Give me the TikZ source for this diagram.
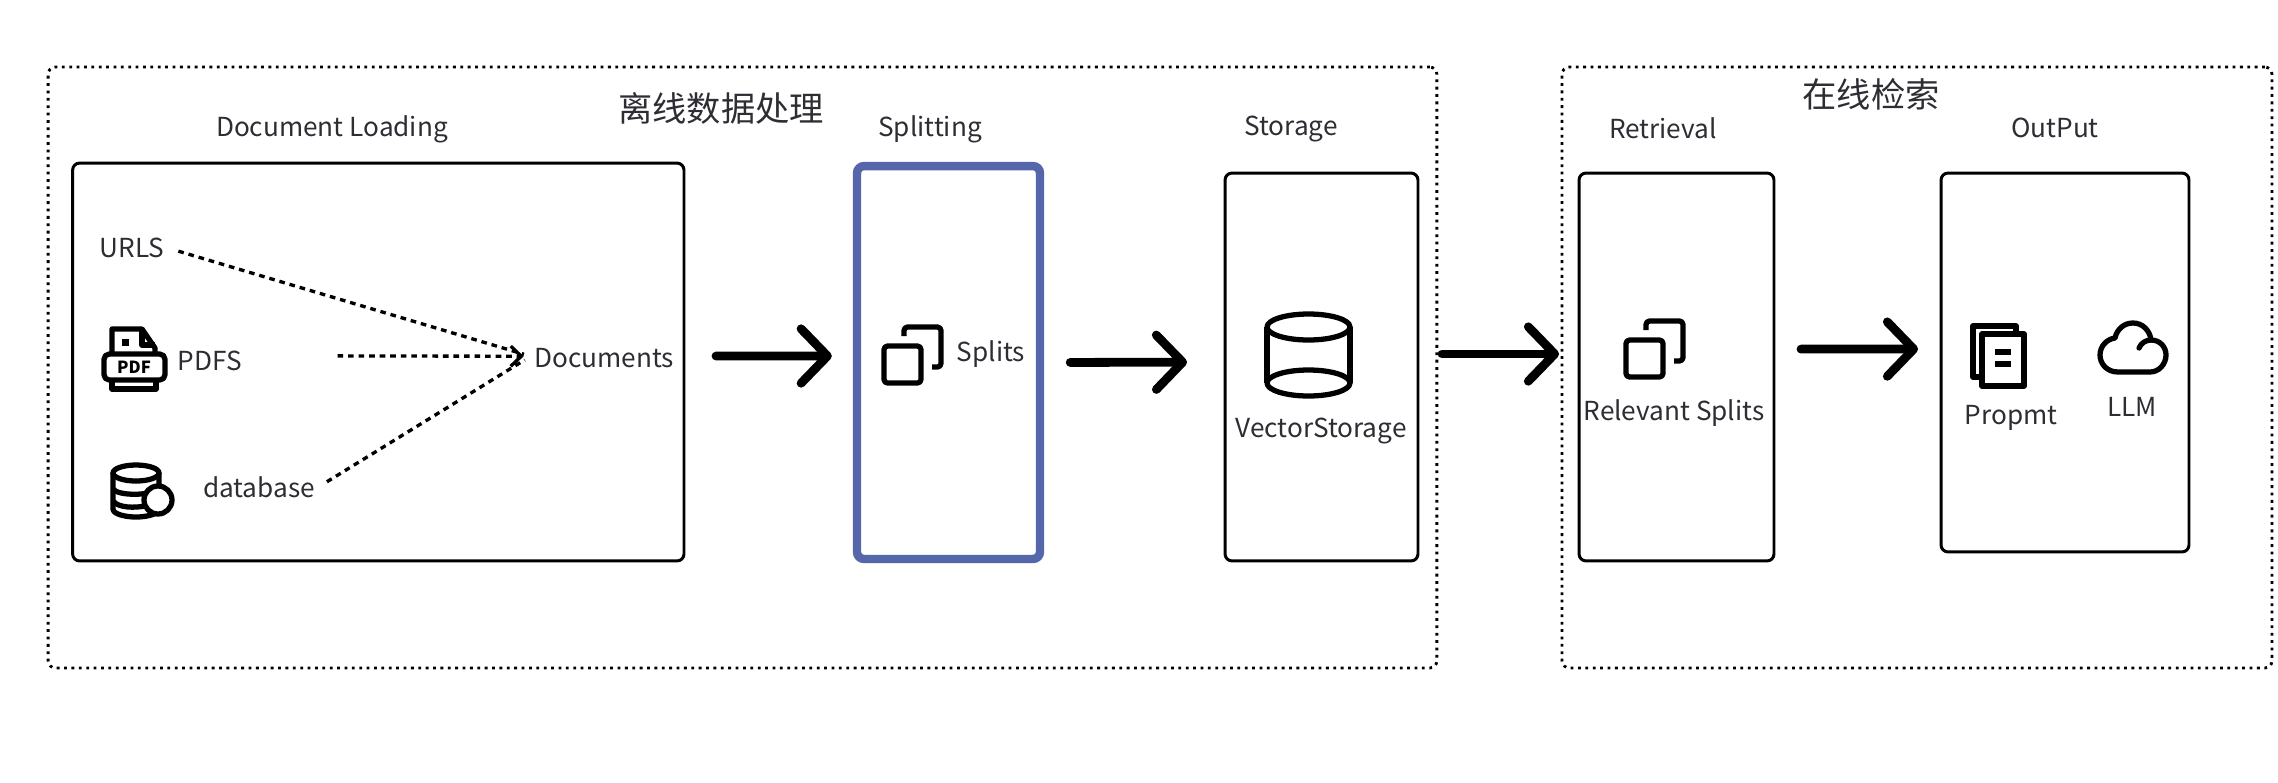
\documentclass[tikz,border=0pt]{standalone}
\usepackage{fontspec}
\setmainfont{Noto Sans CJK SC}
\usetikzlibrary{arrows.meta,positioning,calc}
\definecolor{splitblue}{RGB}{85,102,170}
\definecolor{labelgray}{RGB}{45,45,52}
\tikzset{
  zone/.style={draw=black, line width=1.6pt, dash pattern=on 1.6pt off 2.6pt, rounded corners=4pt},
  panel/.style={draw=black, line width=1.7pt, rounded corners=4pt},
  splitpanel/.style={draw=splitblue, line width=4.8pt, rounded corners=4pt},
  lbl/.style={text=labelgray, font=\fontsize{14.9}{18}\selectfont, inner sep=0pt, outer sep=2pt},
  title/.style={text=labelgray, font=\fontsize{19.5}{23}\selectfont, inner sep=0pt},
  bigarr/.style={-{Straight Barb[length=15pt,width=31pt,round]}, line width=5pt, line cap=round},
  dash arr/.style={line width=1.9pt, dash pattern=on 3.2pt off 2.8pt},
  icon/.style={line width=3pt, line join=round},
  splitsicon/.pic={
    \draw[icon, rounded corners=2pt] (0,0) rectangle (37,37);
    \draw[icon, rounded corners=2pt] (20,-10) -- (20,-19) -- (57,-19) -- (57,21) -- (48,21);
  },
}
\begin{document}
\begin{tikzpicture}[x=0.02cm,y=-0.02cm]
  \useasboundingbox (0,0) rectangle (2278,782);
  % regions
  \node[zone, minimum width=27.78cm, minimum height=12.02cm] (offline) at (742.5,367.5) {};
  \node[zone, minimum width=14.2cm, minimum height=12.02cm] (online) at (1917,367.5) {};
  \node[title] (offlinetitle) at (721,108) {离线数据处理};
  \node[title] (onlinetitle) at (1871,94) {在线检索};
  % panels
  \node[panel, minimum width=12.23cm, minimum height=7.96cm] (docbox) at (378.3,362) {};
  \node[splitpanel, minimum width=3.66cm, minimum height=7.86cm] (splitbox) at (948.5,362.5) {};
  \node[panel, minimum width=3.86cm, minimum height=7.76cm] (storebox) at (1321.5,367) {};
  \node[panel, minimum width=3.9cm, minimum height=7.76cm] (retrbox) at (1676.5,367) {};
  \node[panel, minimum width=4.96cm, minimum height=7.58cm] (outbox) at (2065,362.5) {};
  \node[lbl] (doctitle) at (332,129) {Document Loading};
  \node[lbl] (splittitle) at (930,129) {Splitting};
  \node[lbl] (storetitle) at (1291,129) {Storage};
  \node[lbl] (retrtitle) at (1663,128) {Retrieval};
  \node[lbl] (outtitle) at (2055,128) {OutPut};
  % document loading
  \node[lbl] (urls) at (132,248) {URLS};
  \node[lbl] (pdfs) at (210,361) {PDFS};
  \node[lbl] (database) at (259,487) {database};
  \node[lbl] (documents) at (604,358) {Documents};
  \draw[dash arr, shorten <=0.22cm, shorten >=0.14cm] (urls.east) -- ([yshift=1pt]documents.west);
  \draw[dash arr, shorten <=1.84cm, shorten >=0.14cm, -{Straight Barb[length=6pt,width=11.5pt]}] ([yshift=3pt]pdfs.east) -- ([yshift=1pt]documents.west);
  \draw[dash arr, shorten <=0.2cm, shorten >=0.14cm] (database.east) -- ([yshift=1pt]documents.west);
  % pdf icon
  \draw[icon] (112,353) -- (112,329) -- (142,329) -- (155,348) -- (155,353);
  \draw[icon] (142,329) -- (142,345) -- (155,345);
  \fill (122,339) rectangle (129,346);
  \draw[icon, rounded corners=3pt] (104,354) rectangle (165,380);
  \draw[icon] (112,380) -- (112,389) -- (156,389) -- (156,380);
  \node[font=\bfseries\fontsize{9.5}{10}\selectfont, inner sep=0pt] (pdfmark) at (134,367) {PDF};
  % database icon
  \draw[icon] (113,473) -- (113,509) .. controls (113,514) and (125,517) .. (136,517) .. controls (147,517) and (159,514) .. (159,509) -- (159,473);
  \draw[icon] (136,473) ellipse [x radius=23, y radius=8];
  \draw[icon] (113,489) .. controls (118,496) and (150,496) .. (159,489);
  \draw[icon] (113,501) .. controls (118,508) and (135,508) .. (145,506);
  \draw[icon, fill=white] (158,500) circle [radius=14];
  % splits
  \pic at (884,346) {splitsicon};
  \node[lbl] (splits) at (991,354) {Splits};
  % storage
  \draw[icon] (1267,327) -- (1267,383);
  \draw[icon] (1350,327) -- (1350,383);
  \draw[icon] (1308.5,327) ellipse [x radius=41.5, y radius=13];
  \draw[icon] (1308.5,383) ellipse [x radius=41.5, y radius=13];
  \node[lbl] (vector) at (1321,431) {VectorStorage};
  % retrieval
  \pic at (1626,340) {splitsicon};
  \node[lbl] (relevant) at (1674,413) {Relevant Splits};
  % output
  \draw[icon] (1982,377) -- (1973,377) -- (1973,326) -- (2016,326) -- (2016,334);
  \draw[icon] (1982,334) rectangle (2024,386);
  \draw[icon] (1995,352) -- (2011,352);
  \draw[icon] (1995,364) -- (2011,364);
  \node[lbl] (prompt) at (2011,418) {Propmt};
  \draw[icon] (2118,372) .. controls (2107,372) and (2100,364) .. (2100,355) .. controls (2100,346) and (2107,339) .. (2115,338) .. controls (2117,329) and (2124,323) .. (2133,323) .. controls (2143,323) and (2150,331) .. (2151,340) .. controls (2160,340) and (2166,347) .. (2166,355) .. controls (2166,364) and (2159,372) .. (2150,372) -- cycle;
  \draw[icon, line cap=round] (2139,348) .. controls (2141,343) and (2146,340) .. (2151,340);
  \node[lbl] (llm) at (2132,407) {LLM};
  % flow arrows
  \draw[bigarr, shorten <=0.61cm, shorten >=0.42cm] ([yshift=3.4pt]docbox.east) -- ([yshift=3.7pt]splitbox.west);
  \draw[bigarr, shorten <=0.52cm, shorten >=0.73cm] (splitbox.east) -- ([yshift=2.8pt]storebox.west);
  \draw[bigarr, shorten <=0.45cm, shorten >=0.37cm] ([yshift=7.4pt]storebox.east) -- ([yshift=7.4pt]retrbox.west);
  \draw[bigarr, shorten <=0.51cm, shorten >=0.43cm] ([yshift=10.2pt]retrbox.east) -- ([yshift=7.65pt]outbox.west);
\end{tikzpicture}
\end{document}
